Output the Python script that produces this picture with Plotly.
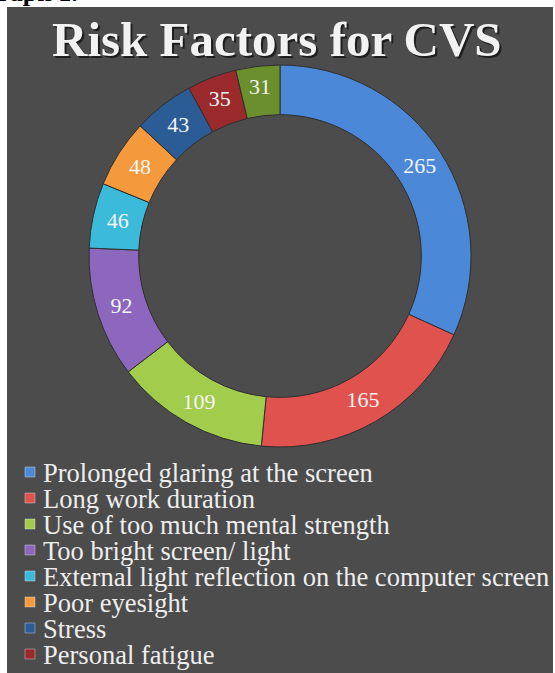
import plotly.graph_objects as go

labels = ["Prolonged glaring at the screen", "Long work duration",
          "Use of too much mental strength", "Too bright screen/ light",
          "External light reflection on the computer screen", "Poor eyesight",
          "Stress", "Personal fatigue", "Other"]
values = [265, 165, 109, 92, 46, 48, 43, 35, 31]
colors = ["#4b88d8", "#e0524e", "#a2cc4c", "#8d67bd", "#3cbad9", "#f59a3c",
          "#2b5c96", "#9a2a2c", "#6c8f2e"]
legend_count = 8
title = "Risk Factors for CVS"
caption = "Graph 1."

W, H = 555, 673
cx, cy, D = 280, 256, 382
SERIF = "Liberation Serif"

fig = go.Figure()
fig.add_trace(go.Pie(
    labels=labels, values=values, sort=False, direction="clockwise", rotation=0,
    hole=0.74, showlegend=False,
    marker=dict(colors=colors, line=dict(color="#2e2e2e", width=1)),
    textinfo="value", textposition="inside", insidetextorientation="horizontal",
    textfont=dict(family=SERIF, size=22, color="#f4f4f4"),
    domain=dict(x=[(cx - D / 2) / W, (cx + D / 2) / W],
                y=[1 - (cy + D / 2) / H, 1 - (cy - D / 2) / H]),
    hoverinfo="label+value",
))

# background panel
fig.add_shape(type="rect", xref="paper", yref="paper",
              x0=7 / W, x1=553 / W, y0=0, y1=1 - 7 / H,
              fillcolor="#4c4c4c", line=dict(width=0), layer="below")

# legend (custom, tight line spacing like the reference)
leg_top, leg_step, sq = 472, 26, 10
for i in range(legend_count):
    yc = leg_top + leg_step * i
    fig.add_shape(type="rect", xref="paper", yref="paper",
                  x0=(30 - sq / 2) / W, x1=(30 + sq / 2) / W,
                  y0=1 - (yc + sq / 2) / H, y1=1 - (yc - sq / 2) / H,
                  fillcolor=colors[i], line=dict(color="rgba(255,255,255,0.35)", width=1))
    fig.add_annotation(text=labels[i], xref="paper", yref="paper",
                       x=41 / W, y=1 - (yc + 1) / H, showarrow=False,
                       xanchor="left", yanchor="middle",
                       font=dict(family=SERIF, size=26.5, color="#eeeeee"))

# title with shadow
fig.add_annotation(text="<b>" + title + "</b>", xref="paper", yref="paper",
                   x=277 / W + 2 / W, y=1 - 39 / H - 2 / H, showarrow=False,
                   font=dict(family=SERIF, size=49, color="#1e1e1e"),
                   xanchor="center", yanchor="middle")
fig.add_annotation(text="<b>" + title + "</b>", xref="paper", yref="paper",
                   x=277 / W, y=1 - 39 / H, showarrow=False,
                   font=dict(family=SERIF, size=49, color="#f2f2f2"),
                   xanchor="center", yanchor="middle")
# caption, cut off by the page edge like in the reference
fig.add_annotation(text="<b>" + caption + "</b>", xref="paper", yref="paper",
                   x=80 / W, y=1 - 9 / H, showarrow=False,
                   font=dict(family=SERIF, size=26, color="#000000"),
                   xanchor="right", yanchor="bottom")

fig.update_layout(
    width=W, height=H, margin=dict(l=0, r=0, t=0, b=0),
    paper_bgcolor="white", plot_bgcolor="rgba(0,0,0,0)",
    showlegend=False,
)
fig.write_html("out.html")
